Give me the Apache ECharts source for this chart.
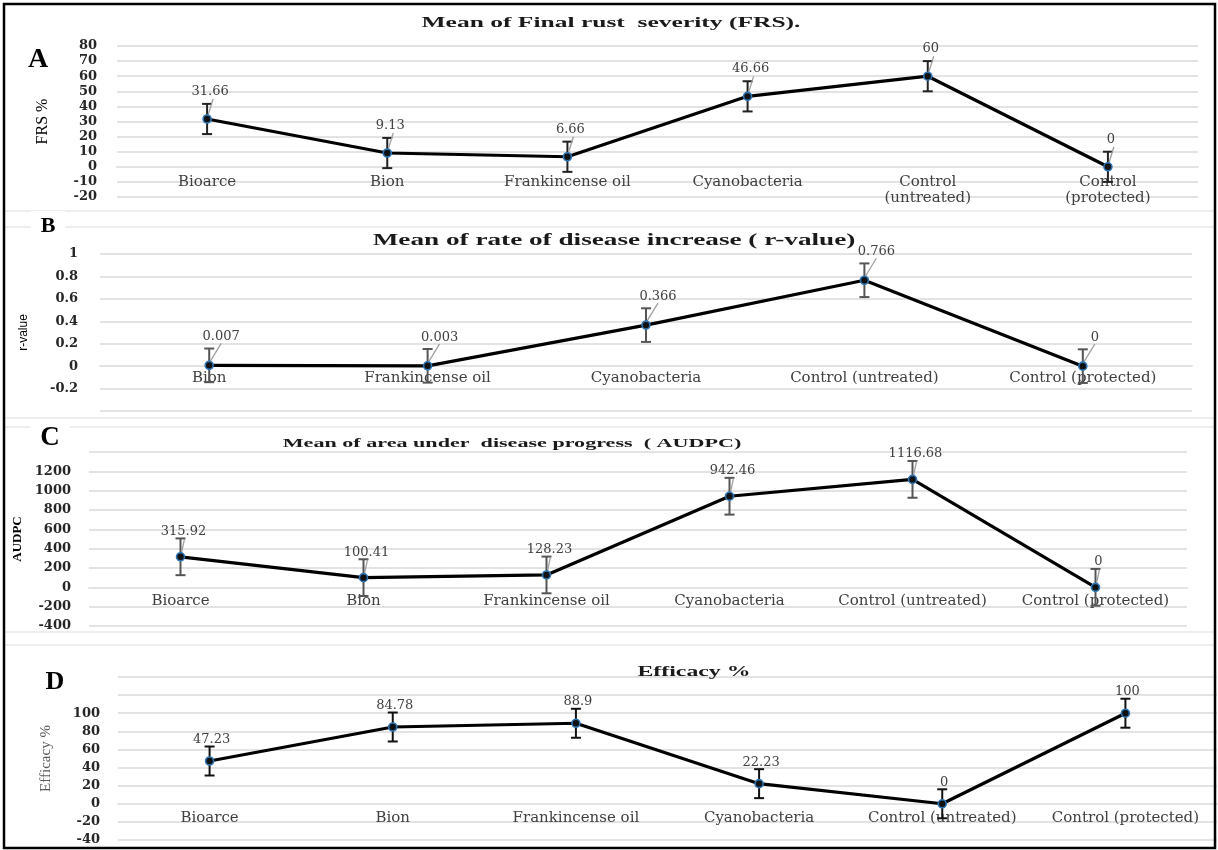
<!DOCTYPE html>
<html><head><meta charset="utf-8">
<script src="https://cdn.jsdelivr.net/npm/echarts@6/dist/echarts.min.js"></script>
<style>html,body{margin:0;padding:0;background:#fff}#c{width:1218px;height:850px}</style>
</head><body><div id="c"></div>
<script>
// ---------- DATA ----------
const catsA = ['Bioarce', 'Bion', 'Frankincense oil', 'Cyanobacteria', 'Control\n(untreated)', 'Control\n(protected)'];
const frsMean = [31.66, 9.13, 6.66, 46.66, 60, 0];
const frsErr = [10, 10, 10, 10, 10, 10];
const yTicksA = [-20, -10, 0, 10, 20, 30, 40, 50, 60, 70, 80];

const catsB = ['Bion', 'Frankincense oil', 'Cyanobacteria', 'Control (untreated)', 'Control (protected)'];
const rMean = [0.007, 0.003, 0.366, 0.766, 0];
const rErr = [0.15, 0.15, 0.15, 0.15, 0.15];
const yTicksB = [-0.4, -0.2, 0, 0.2, 0.4, 0.6, 0.8, 1];
const yLabelsB = [-0.2, 0, 0.2, 0.4, 0.6, 0.8, 1];

const catsC = ['Bioarce', 'Bion', 'Frankincense oil', 'Cyanobacteria', 'Control (untreated)', 'Control (protected)'];
const audpcMean = [315.92, 100.41, 128.23, 942.46, 1116.68, 0];
const audpcErr = [190, 190, 190, 190, 190, 190];
const yTicksC = [-400, -200, 0, 200, 400, 600, 800, 1000, 1200, 1400];
const yLabelsC = [-400, -200, 0, 200, 400, 600, 800, 1000, 1200];

const catsD = ['Bioarce', 'Bion', 'Frankincense oil', 'Cyanobacteria', 'Control (untreated)', 'Control (protected)'];
const effMean = [47.23, 84.78, 88.9, 22.23, 0, 100];
const effErr = [16, 16, 16, 16, 16, 16];
const yTicksD = [-40, -20, 0, 20, 40, 60, 80, 100, 120, 140];
const yLabelsD = [-40, -20, 0, 20, 40, 60, 80, 100];

const titles = ['Mean of Final rust  severity (FRS).', 'Mean of rate of disease increase ( r-value)',
  'Mean of area under  disease progress  ( AUDPC)', 'Efficacy %'];
const yNames = ['FRS %', 'r-value', 'AUDPC', 'Efficacy %'];
const letters = ['A', 'B', 'C', 'D'];

// ---------- LAYOUT ----------
const panels = [
  { cats: catsA, mean: frsMean, err: frsErr, ticks: yTicksA, shown: yTicksA,
    grid: { left: 117, top: 46, width: 1081, height: 151 }, labelMargin: 20, catMargin: 7,
    labDist: 16, labOff: [3, 0], errColor: '#222', leader: [6, 20],
    nameGap: 66, nameStyle: { fontFamily: 'Liberation Serif', fontSize: 16, color: '#000' } },
  { cats: catsB, mean: rMean, err: rErr, ticks: yTicksB, shown: yLabelsB,
    grid: { left: 100, top: 254, width: 1092, height: 157 }, labelMargin: 22, catMargin: 4,
    labDist: 17, labOff: [12, 0], errColor: '#555', leader: [12, 22],
    nameGap: 70, nameStyle: { fontFamily: "'Liberation Sans Narrow','Liberation Sans',sans-serif", fontSize: 12, color: '#000' } },
  { cats: catsC, mean: audpcMean, err: audpcErr, ticks: yTicksC, shown: yLabelsC,
    grid: { left: 89, top: 452, width: 1098, height: 174 }, labelMargin: 18, catMargin: 6,
    labDist: 14, labOff: [3, 0], errColor: '#555', leader: [4, 18],
    nameGap: 58, nameStyle: { fontFamily: 'Liberation Serif', fontSize: 13, fontWeight: 'bold', color: '#000' } },
  { cats: catsD, mean: effMean, err: effErr, ticks: yTicksD, shown: yLabelsD,
    grid: { left: 118, top: 677, width: 1099, height: 163 }, labelMargin: 18, catMargin: 6,
    labDist: 10, labOff: [2, 0], errColor: '#111', leader: null,
    nameGap: 64, nameStyle: { fontFamily: 'Liberation Serif', fontSize: 15, color: '#595959' } }
];

const titleLayout = [
  { x: 611, y: 23, size: 15 },
  { x: 614, y: 241, size: 16 },
  { x: 512, y: 444, size: 13 },
  { x: 694, y: 672, size: 14 }
];
const letterLayout = [
  { x: 38, y: 60, size: 28 },
  { x: 48, y: 226, size: 22 },
  { x: 50, y: 438, size: 27 },
  { x: 55, y: 682, size: 26 }
];

const serif = "'DejaVu Serif', 'Liberation Serif', serif";

const grids = [], xAxes = [], yAxes = [], series = [];
panels.forEach((p, i) => {
  grids.push(Object.assign({ containLabel: false }, p.grid));
  const yMin = p.ticks[0], yMax = p.ticks[p.ticks.length - 1];
  // move the category axis (line + labels) up to the value 0 of the value axis
  const zeroShift = -p.grid.height * (0 - yMin) / (yMax - yMin);
  xAxes.push({
    type: 'category', gridIndex: i, data: p.cats, boundaryGap: true,
    offset: zeroShift,
    axisLine: { show: true, onZero: false, lineStyle: { color: '#e3e3e3', width: 2 } },
    axisTick: { show: false },
    axisLabel: { interval: 0, margin: p.catMargin, color: '#404040', fontFamily: serif, fontSize: 15, lineHeight: 16 },
    splitLine: { show: false }
  });
  const shown = p.shown;
  yAxes.push({
    type: 'value', gridIndex: i,
    min: yMin, max: yMax, interval: +(p.ticks[1] - p.ticks[0]).toFixed(6),
    name: yNames[i], nameLocation: 'middle', nameRotate: 90, nameGap: p.nameGap,
    nameTextStyle: p.nameStyle,
    axisLine: { show: false }, axisTick: { show: false },
    axisLabel: {
      margin: p.labelMargin, color: '#262626', fontFamily: serif, fontWeight: 'bold', fontSize: 13,
      formatter: v => shown.some(s => Math.abs(s - v) < 1e-9) ? String(+(+v).toFixed(2)) : ''
    },
    splitLine: { show: true, lineStyle: { color: '#e3e3e3', width: 2 } }
  });
  const errColor = p.errColor, leader = p.leader;
  series.push({
    type: 'custom', xAxisIndex: i, yAxisIndex: i, z: 3, silent: true,
    data: p.mean.map((m, k) => [k, m - p.err[k], m + p.err[k], m]),
    encode: { x: 0, y: [1, 2] },
    renderItem(params, api) {
      const x = api.value(0);
      const lo = api.coord([x, api.value(1)]);
      const hi = api.coord([x, api.value(2)]);
      const mid = api.coord([x, api.value(3)]);
      const w = 5;
      const st = { stroke: errColor, lineWidth: 2 };
      const ch = [
        { type: 'line', shape: { x1: hi[0], y1: hi[1], x2: lo[0], y2: lo[1] }, style: st },
        { type: 'line', shape: { x1: hi[0] - w, y1: hi[1], x2: hi[0] + w, y2: hi[1] }, style: st },
        { type: 'line', shape: { x1: lo[0] - w, y1: lo[1], x2: lo[0] + w, y2: lo[1] }, style: st }
      ];
      if (leader) {
        ch.push({ type: 'line', shape: { x1: mid[0] + 1, y1: mid[1] - 4, x2: mid[0] + leader[0], y2: mid[1] - leader[1] },
          style: { stroke: '#a0a0a0', lineWidth: 1.3 } });
      }
      return { type: 'group', children: ch };
    }
  });
  series.push({
    type: 'line', xAxisIndex: i, yAxisIndex: i, z: 5, data: p.mean,
    symbol: 'circle', symbolSize: 8,
    lineStyle: { color: '#000', width: 3.2 },
    itemStyle: { color: '#111', borderColor: '#2e75b6', borderWidth: 1.6 },
    label: { show: true, position: 'top', distance: p.labDist, offset: p.labOff,
      color: '#404040', fontFamily: serif, fontSize: 13, formatter: d => String(d.value) },
    emphasis: { disabled: true }
  });
});

const graphics = [];
// panel frame separators
[211, 227, 418, 427, 632, 645].forEach(y => {
  graphics.push({ type: 'line', shape: { x1: 5, y1: y, x2: 1214, y2: y }, style: { stroke: '#dedede', lineWidth: 1.2 }, z: 1 });
});
titles.forEach((t, i) => {
  const L = titleLayout[i];
  graphics.push({ type: 'text', x: L.x, y: L.y, scaleX: 1.7, z: 10,
    style: { text: t, fontFamily: "'Liberation Serif', serif", fontWeight: 'bold', fontSize: L.size,
      fill: '#1a1a1a', textAlign: 'center', textVerticalAlign: 'middle' } });
});
letters.forEach((t, i) => {
  const L = letterLayout[i];
  graphics.push({ type: 'text', x: L.x, y: L.y, z: 10,
    style: { text: t, fontFamily: "'Liberation Serif', serif", fontWeight: 'bold', fontSize: L.size,
      fill: '#000', textAlign: 'center', textVerticalAlign: 'middle',
      backgroundColor: '#fff', padding: [4, 10] } });
});
graphics.push({ type: 'rect', shape: { x: 4, y: 4, width: 1211, height: 844 }, z: 100,
  style: { fill: 'none', stroke: '#000', lineWidth: 2.5 } });

const chart = echarts.init(document.getElementById('c'), null, { renderer: 'canvas' });
chart.setOption({
  animation: false,
  backgroundColor: '#fff',
  grid: grids, xAxis: xAxes, yAxis: yAxes, series: series,
  graphic: graphics
});
</script></body></html>
